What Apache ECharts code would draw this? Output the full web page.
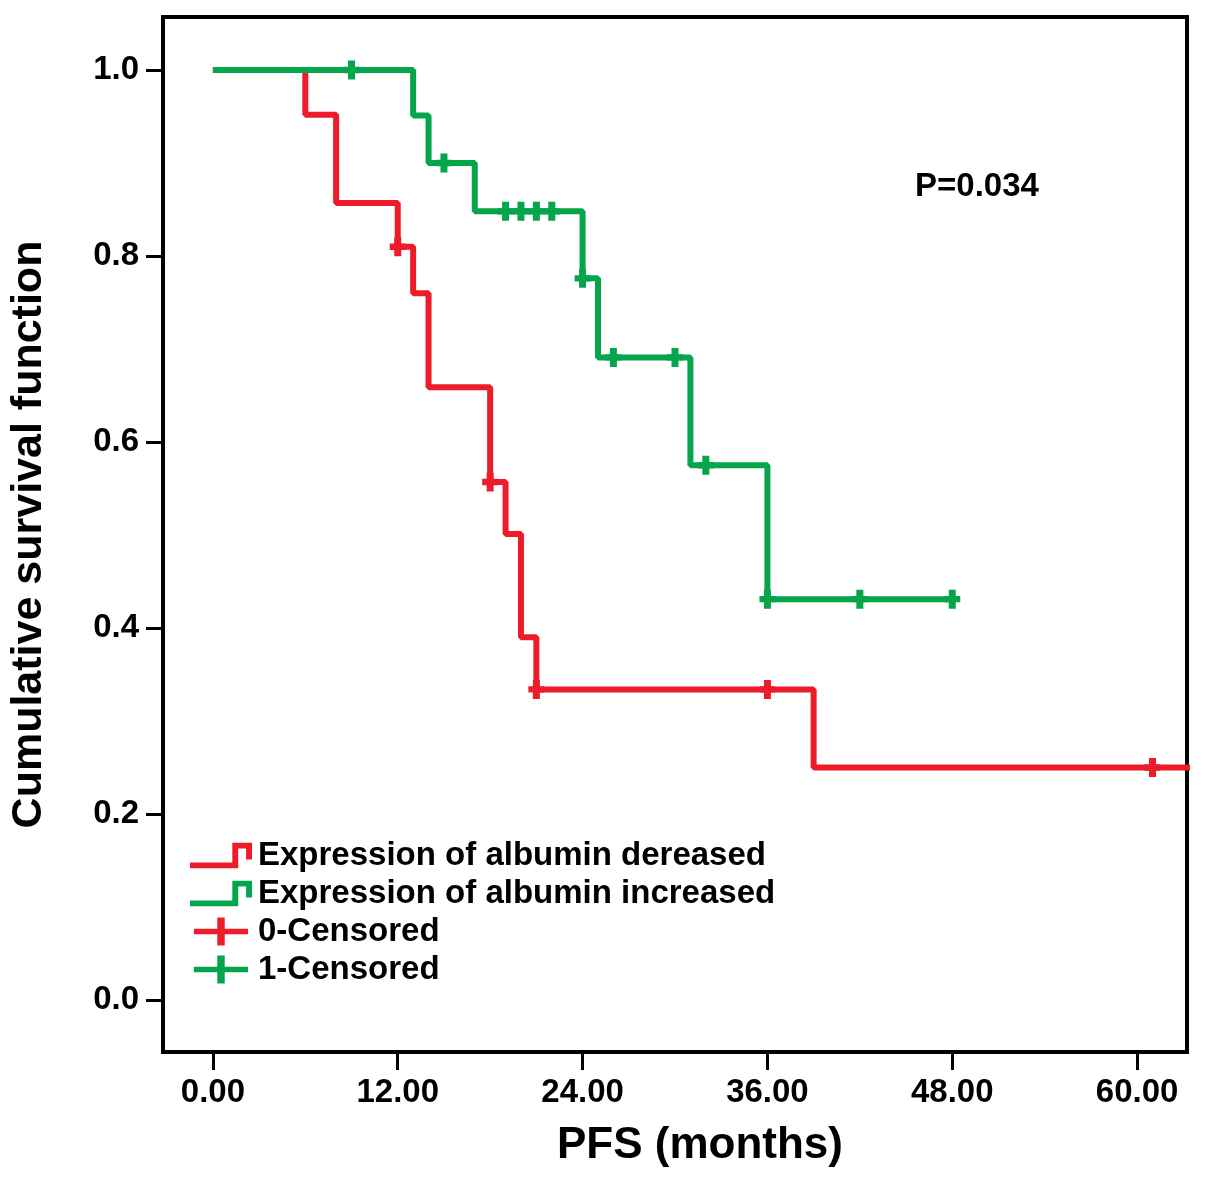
<!DOCTYPE html>
<html>
<head>
<meta charset="utf-8">
<script src="https://cdn.jsdelivr.net/npm/echarts@6/dist/echarts.min.js"></script>
<style>
  html, body { margin: 0; padding: 0; background: #fff; }
  #chart { width: 1205px; height: 1192px; }
</style>
</head>
<body>
<div id="chart"></div>
<script>
// Kaplan-Meier steps (months, cumulative survival)
var redTimes = [0, 6, 8, 12, 13, 14, 18, 19, 20, 21, 39, 64];
var redSurv = [1.0, 0.952, 0.857, 0.810, 0.760, 0.659, 0.557, 0.501, 0.390, 0.334, 0.250, 0.250];
var redCensorTimes = [12, 18, 21, 36, 61];
var redCensorSurv = [0.810, 0.557, 0.334, 0.334, 0.250];

var greenTimes = [0, 13, 14, 17, 24, 25, 31, 36, 48];
var greenSurv = [1.0, 0.951, 0.900, 0.848, 0.776, 0.691, 0.575, 0.431, 0.431];
var greenCensorTimes = [9, 15, 19, 20, 21, 22, 24, 26, 30, 32, 36, 42, 48];
var greenCensorSurv = [1.0, 0.900, 0.848, 0.848, 0.848, 0.848, 0.776, 0.691, 0.691, 0.575, 0.431, 0.431, 0.431];

var xTicks = [0, 12, 24, 36, 48, 60];
var yTicks = [0, 0.2, 0.4, 0.6, 0.8, 1.0];

var seriesNames = ['Expression of albumin dereased', 'Expression of albumin increased', '0-Censored', '1-Censored'];

var RED = '#ec1c2a';
var GREEN = '#05a54b';
var FONT = '"Liberation Sans", Arial, sans-serif';

function pairs(xs, ys) {
  var out = [];
  for (var i = 0; i < xs.length; i++) out.push([xs[i], ys[i]]);
  return out;
}

var plusSymbol = 'path://M4.5,0H11.5V6H16V12H11.5V18H4.5V12H0V6H4.5Z';
var plusIcon = 'path://M25,0H33V12H58V18H33V30H25V18H0V12H25Z';
var stepIcon = 'path://M0,20H43V0H63V17H57V6H49V26H0Z';

var chart = echarts.init(document.getElementById('chart'));

chart.setOption({
  backgroundColor: '#fff',
  animation: false,
  grid: {
    left: 162, right: 18, top: 17, bottom: 140,
    show: true, borderColor: '#000', borderWidth: 4, backgroundColor: '#fff'
  },
  xAxis: {
    type: 'value',
    min: -3.24,
    max: 63.24,
    name: 'PFS (months)',
    nameLocation: 'middle',
    nameGap: 72,
    nameTextStyle: { fontFamily: FONT, fontWeight: 'bold', fontSize: 44, color: '#000', padding: [0, 0, 0, 50] },
    axisLine: { show: true, onZero: false, lineStyle: { color: '#000', width: 4 } },
    axisTick: { show: true, length: 18, lineStyle: { color: '#000', width: 3 }, customValues: xTicks },
    axisLabel: {
      fontFamily: FONT, fontWeight: 'bold', fontSize: 33, color: '#000', margin: 24,
      customValues: xTicks,
      formatter: function (v) { return v.toFixed(2); }
    },
    splitLine: { show: false }
  },
  yAxis: {
    type: 'value',
    min: -0.0559,
    max: 1.057,
    name: 'Cumulative survival function',
    nameLocation: 'middle',
    nameRotate: 90,
    nameGap: 112,
    nameTextStyle: { fontFamily: FONT, fontWeight: 'bold', fontSize: 43, color: '#000' },
    axisLine: { show: true, onZero: false, lineStyle: { color: '#000', width: 4 } },
    axisTick: { show: true, length: 17, lineStyle: { color: '#000', width: 3 }, customValues: yTicks },
    axisLabel: {
      fontFamily: FONT, fontWeight: 'bold', fontSize: 33, color: '#000', margin: 24,
      customValues: yTicks,
      formatter: function (v) { return v.toFixed(1); }
    },
    splitLine: { show: false }
  },
  legend: {
    orient: 'vertical',
    left: 190,
    top: 839,
    itemWidth: 62,
    itemHeight: 28,
    itemGap: 5,
    padding: 0,
    textStyle: { fontFamily: FONT, fontWeight: 'bold', fontSize: 33, lineHeight: 28, color: '#000', padding: [0, 0, 0, 1] },
    itemStyle: { borderWidth: 0, opacity: 1 },
    data: [
      { name: seriesNames[0], icon: stepIcon },
      { name: seriesNames[1], icon: stepIcon },
      { name: seriesNames[2], icon: plusIcon },
      { name: seriesNames[3], icon: plusIcon }
    ]
  },
  graphic: [{
    type: 'text',
    left: 915,
    top: 170,
    style: { text: 'P=0.034', fontFamily: FONT, fontWeight: 'bold', fontSize: 33, fill: '#000' }
  }],
  series: [
    {
      name: seriesNames[0],
      type: 'line',
      step: 'end',
      showSymbol: false,
      symbol: 'none',
      clip: true,
      data: pairs(redTimes, redSurv),
      itemStyle: { color: RED },
      lineStyle: { color: RED, width: 6 },
      z: 2
    },
    {
      name: seriesNames[1],
      type: 'line',
      step: 'end',
      showSymbol: false,
      symbol: 'none',
      clip: true,
      data: pairs(greenTimes, greenSurv),
      itemStyle: { color: GREEN },
      lineStyle: { color: GREEN, width: 6 },
      z: 3
    },
    {
      name: seriesNames[2],
      type: 'scatter',
      symbol: plusSymbol,
      symbolSize: [16, 19],
      data: pairs(redCensorTimes, redCensorSurv),
      itemStyle: { color: RED, opacity: 1 },
      z: 4
    },
    {
      name: seriesNames[3],
      type: 'scatter',
      symbol: plusSymbol,
      symbolSize: [16, 19],
      data: pairs(greenCensorTimes, greenCensorSurv),
      itemStyle: { color: GREEN, opacity: 1 },
      z: 5
    }
  ]
});
</script>
</body>
</html>
